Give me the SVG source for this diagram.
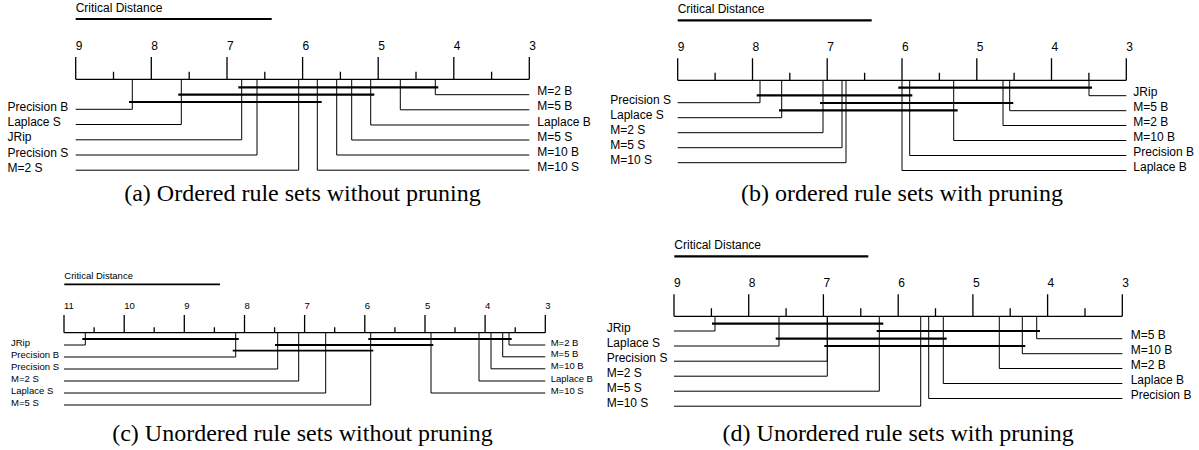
<svg xmlns="http://www.w3.org/2000/svg" width="1199" height="450" viewBox="0 0 1199 450">
<style>
text{font-family:"Liberation Sans",Arial,sans-serif;fill:#000}
.lbl{font-size:12px}
.sm{font-size:9.5px}
.cap{font-family:"Liberation Serif","Times New Roman",serif;font-size:24px;text-anchor:middle}
.ln{stroke:#000;stroke-width:1;fill:none}
.ax{stroke:#000;stroke-width:1.3;fill:none}
.bar{stroke:#000;stroke-width:2.2;fill:none}
.bars{stroke:#000;stroke-width:1.8;fill:none}
</style>
<rect width="1199" height="450" fill="#fff"/>

<!-- ===== Panel (a) ===== -->
<g id="panel-a">
  <g id="a-cd">
    <text class="lbl" x="75.7" y="12">Critical Distance</text>
    <line class="bar" x1="75.7" y1="19" x2="271.7" y2="19"/>
  </g>
  <g id="a-axis">
    <path class="ax" d="M75.7,79.3H529.3M75.7,57V79.3M151.3,57V79.3M227,57V79.3M302.6,57V79.3M378.2,57V79.3M453.8,57V79.3M529.3,57V79.3M113.5,71.7V79.3M189.2,71.7V79.3M264.8,71.7V79.3M340.4,71.7V79.3M416,71.7V79.3M491.6,71.7V79.3"/>
    <text class="lbl" x="75.7" y="50">9</text>
    <text class="lbl" x="151.3" y="50">8</text>
    <text class="lbl" x="227" y="50">7</text>
    <text class="lbl" x="302.6" y="50">6</text>
    <text class="lbl" x="378.2" y="50">5</text>
    <text class="lbl" x="453.8" y="50">4</text>
    <text class="lbl" x="529.3" y="50">3</text>
  </g>
  <g id="a-connectors">
    <path class="ln" d="M75.7,109.3H132.3V79.3M75.7,124.5H181.3V79.3M75.7,139.8H241.7V79.3M75.7,155H257V79.3M75.7,170.2H298.7V79.3"/>
    <path class="ln" d="M529.3,94.7H435.3V79.3M529.3,109.8H400.3V79.3M529.3,125H370.7V79.3M529.3,140H351.7V79.3M529.3,155H336.7V79.3M529.3,170.2H317.3V79.3"/>
    <path class="bar" d="M238.3,87.3H438.3M178.3,94.7H374.3M129,102H321.7"/>
  </g>
  <g id="a-precision-b"><text class="lbl" x="7.5" y="110.8">Precision B</text></g>
  <g id="a-laplace-s"><text class="lbl" x="7.5" y="126">Laplace S</text></g>
  <g id="a-jrip"><text class="lbl" x="7.5" y="141.3">JRip</text></g>
  <g id="a-precision-s"><text class="lbl" x="7.5" y="156.5">Precision S</text></g>
  <g id="a-m2s"><text class="lbl" x="7.5" y="171.7">M=2 S</text></g>
  <g id="a-m2b"><text class="lbl" x="537.3" y="95.2">M=2 B</text></g>
  <g id="a-m5b"><text class="lbl" x="537.3" y="110.3">M=5 B</text></g>
  <g id="a-laplace-b"><text class="lbl" x="537.3" y="125.5">Laplace B</text></g>
  <g id="a-m5s"><text class="lbl" x="537.3" y="140.5">M=5 S</text></g>
  <g id="a-m10b"><text class="lbl" x="537.3" y="155.5">M=10 B</text></g>
  <g id="a-m10s"><text class="lbl" x="537.3" y="170.7">M=10 S</text></g>
  <text class="cap" x="302.5" y="200.8">(a) Ordered rule sets without pruning</text>
</g>

<!-- ===== Panel (b) ===== -->
<g id="panel-b">
  <g id="b-cd">
    <text class="lbl" x="677.7" y="13.3">Critical Distance</text>
    <line class="bar" x1="677.7" y1="20.3" x2="871.7" y2="20.3"/>
  </g>
  <g id="b-axis">
    <path class="ax" d="M677.7,80.3H1126.3M677.7,58.3V80.3M752.5,58.3V80.3M827.2,58.3V80.3M902,58.3V80.3M976.8,58.3V80.3M1051.5,58.3V80.3M1126.3,58.3V80.3M715.1,72.7V80.3M789.8,72.7V80.3M864.6,72.7V80.3M939.4,72.7V80.3M1014.1,72.7V80.3M1088.9,72.7V80.3"/>
    <text class="lbl" x="677.7" y="50.5">9</text>
    <text class="lbl" x="752.5" y="50.5">8</text>
    <text class="lbl" x="827.2" y="50.5">7</text>
    <text class="lbl" x="902" y="50.5">6</text>
    <text class="lbl" x="976.8" y="50.5">5</text>
    <text class="lbl" x="1051.5" y="50.5">4</text>
    <text class="lbl" x="1126.3" y="50.5">3</text>
  </g>
  <g id="b-connectors">
    <path class="ln" d="M677.7,102.7H760V80.3M677.7,117.7H781.7V80.3M677.7,132.7H823V80.3M677.7,147.7H842V80.3M677.7,162.7H846V80.3"/>
    <path class="ln" d="M1126.3,95.7H1089V80.3M1126.3,110.7H1009.7V80.3M1126.3,125.5H1003V80.3M1126.3,140.5H953.7V80.3M1126.3,155.5H909.7V80.3M1126.3,170.5H902V80.3"/>
    <path class="bar" d="M898.3,87.7H1092M756.7,95.3H912.3M820,103H1013.3M779,110.3H957.7"/>
  </g>
  <g id="b-precision-s"><text class="lbl" x="610.3" y="103.7">Precision S</text></g>
  <g id="b-laplace-s"><text class="lbl" x="610.3" y="118.7">Laplace S</text></g>
  <g id="b-m2s"><text class="lbl" x="610.3" y="133.7">M=2 S</text></g>
  <g id="b-m5s"><text class="lbl" x="610.3" y="148.7">M=5 S</text></g>
  <g id="b-m10s"><text class="lbl" x="610.3" y="163.7">M=10 S</text></g>
  <g id="b-jrip"><text class="lbl" x="1133.3" y="96.2">JRip</text></g>
  <g id="b-m5b"><text class="lbl" x="1133.3" y="111.2">M=5 B</text></g>
  <g id="b-m2b"><text class="lbl" x="1133.3" y="126">M=2 B</text></g>
  <g id="b-m10b"><text class="lbl" x="1133.3" y="141">M=10 B</text></g>
  <g id="b-precision-b"><text class="lbl" x="1133.3" y="156">Precision B</text></g>
  <g id="b-laplace-b"><text class="lbl" x="1133.3" y="171">Laplace B</text></g>
  <text class="cap" x="902" y="200.8">(b) ordered rule sets with pruning</text>
</g>

<!-- ===== Panel (c) ===== -->
<g id="panel-c">
  <g id="c-cd">
    <text class="sm" x="64.3" y="279.3">Critical Distance</text>
    <line class="bars" x1="64.3" y1="284.3" x2="220" y2="284.3"/>
  </g>
  <g id="c-axis">
    <path class="ax" d="M64,332.7H545.3M64,315V332.7M124.2,315V332.7M184.3,315V332.7M244.5,315V332.7M304.6,315V332.7M364.8,315V332.7M425,315V332.7M485.1,315V332.7M545.3,315V332.7M94.1,327.3V332.7M154.2,327.3V332.7M214.4,327.3V332.7M274.6,327.3V332.7M334.7,327.3V332.7M394.9,327.3V332.7M455,327.3V332.7M515.2,327.3V332.7"/>
    <text class="sm" x="64" y="309">11</text>
    <text class="sm" x="124.2" y="309">10</text>
    <text class="sm" x="184.3" y="309">9</text>
    <text class="sm" x="244.5" y="309">8</text>
    <text class="sm" x="304.6" y="309">7</text>
    <text class="sm" x="364.8" y="309">6</text>
    <text class="sm" x="425" y="309">5</text>
    <text class="sm" x="485.1" y="309">4</text>
    <text class="sm" x="545.3" y="309">3</text>
  </g>
  <g id="c-connectors">
    <path class="ln" d="M64,345H85.3V332.7M64,357H235.7V332.7M64,369H277.7V332.7M64,381H298.7V332.7M64,393H325.7V332.7M64,405H370.7V332.7"/>
    <path class="ln" d="M545.3,345H509V332.7M545.3,356.8H502.7V332.7M545.3,368.8H491V332.7M545.3,381H479V332.7M545.3,393H431V332.7"/>
    <path class="bars" d="M82.3,339H238.7M368.3,339H511.7M275,345H433.3M232.7,350.7H373.3"/>
  </g>
  <g id="c-jrip"><text class="sm" x="11" y="346">JRip</text></g>
  <g id="c-precision-b"><text class="sm" x="11" y="358">Precision B</text></g>
  <g id="c-precision-s"><text class="sm" x="11" y="370">Precision S</text></g>
  <g id="c-m2s"><text class="sm" x="11" y="382">M=2 S</text></g>
  <g id="c-laplace-s"><text class="sm" x="11" y="394">Laplace S</text></g>
  <g id="c-m5s"><text class="sm" x="11" y="406">M=5 S</text></g>
  <g id="c-m2b"><text class="sm" x="550.7" y="345.5">M=2 B</text></g>
  <g id="c-m5b"><text class="sm" x="550.7" y="357.3">M=5 B</text></g>
  <g id="c-m10b"><text class="sm" x="550.7" y="369.3">M=10 B</text></g>
  <g id="c-laplace-b"><text class="sm" x="550.7" y="381.5">Laplace B</text></g>
  <g id="c-m10s"><text class="sm" x="550.7" y="393.5">M=10 S</text></g>
  <text class="cap" x="302.5" y="440.8">(c) Unordered rule sets without pruning</text>
</g>

<!-- ===== Panel (d) ===== -->
<g id="panel-d">
  <g id="d-cd">
    <text class="lbl" x="674.3" y="249">Critical Distance</text>
    <line class="bar" x1="674.3" y1="256.3" x2="868.3" y2="256.3"/>
  </g>
  <g id="d-axis">
    <path class="ax" d="M674,316.3H1122.3M674,294.3V316.3M748.7,294.3V316.3M823.4,294.3V316.3M898.2,294.3V316.3M972.9,294.3V316.3M1047.6,294.3V316.3M1122.3,294.3V316.3M711.4,308.3V316.3M786.1,308.3V316.3M860.8,308.3V316.3M935.5,308.3V316.3M1010.2,308.3V316.3M1085,308.3V316.3"/>
    <text class="lbl" x="674" y="286.7">9</text>
    <text class="lbl" x="748.7" y="286.7">8</text>
    <text class="lbl" x="823.4" y="286.7">7</text>
    <text class="lbl" x="898.2" y="286.7">6</text>
    <text class="lbl" x="972.9" y="286.7">5</text>
    <text class="lbl" x="1047.6" y="286.7">4</text>
    <text class="lbl" x="1122.3" y="286.7">3</text>
  </g>
  <g id="d-connectors">
    <path class="ln" d="M674,331H715V316.3M674,346H779V316.3M674,361.2H827.3V316.3M674,376.2H827.3V316.3M674,391.2H879.3V316.3M674,406.2H920.7V316.3"/>
    <path class="ln" d="M1122.3,338.7H1036.7V316.3M1122.3,353.7H1022.3V316.3M1122.3,368.5H999.3V316.3M1122.3,383.5H943.3V316.3M1122.3,398.5H928.7V316.3"/>
    <path class="bar" d="M712,323.7H883.3M876.7,331H1040M775.7,338.7H946.7M824.3,346H1025.3"/>
  </g>
  <g id="d-jrip"><text class="lbl" x="606.7" y="332">JRip</text></g>
  <g id="d-laplace-s"><text class="lbl" x="606.7" y="347">Laplace S</text></g>
  <g id="d-precision-s"><text class="lbl" x="606.7" y="362.2">Precision S</text></g>
  <g id="d-m2s"><text class="lbl" x="606.7" y="377.2">M=2 S</text></g>
  <g id="d-m5s"><text class="lbl" x="606.7" y="392.2">M=5 S</text></g>
  <g id="d-m10s"><text class="lbl" x="606.7" y="407.2">M=10 S</text></g>
  <g id="d-m5b"><text class="lbl" x="1130.7" y="339.2">M=5 B</text></g>
  <g id="d-m10b"><text class="lbl" x="1130.7" y="354.2">M=10 B</text></g>
  <g id="d-m2b"><text class="lbl" x="1130.7" y="369">M=2 B</text></g>
  <g id="d-laplace-b"><text class="lbl" x="1130.7" y="384">Laplace B</text></g>
  <g id="d-precision-b"><text class="lbl" x="1130.7" y="399">Precision B</text></g>
  <text class="cap" x="898.2" y="440.8">(d) Unordered rule sets with pruning</text>
</g>
</svg>
